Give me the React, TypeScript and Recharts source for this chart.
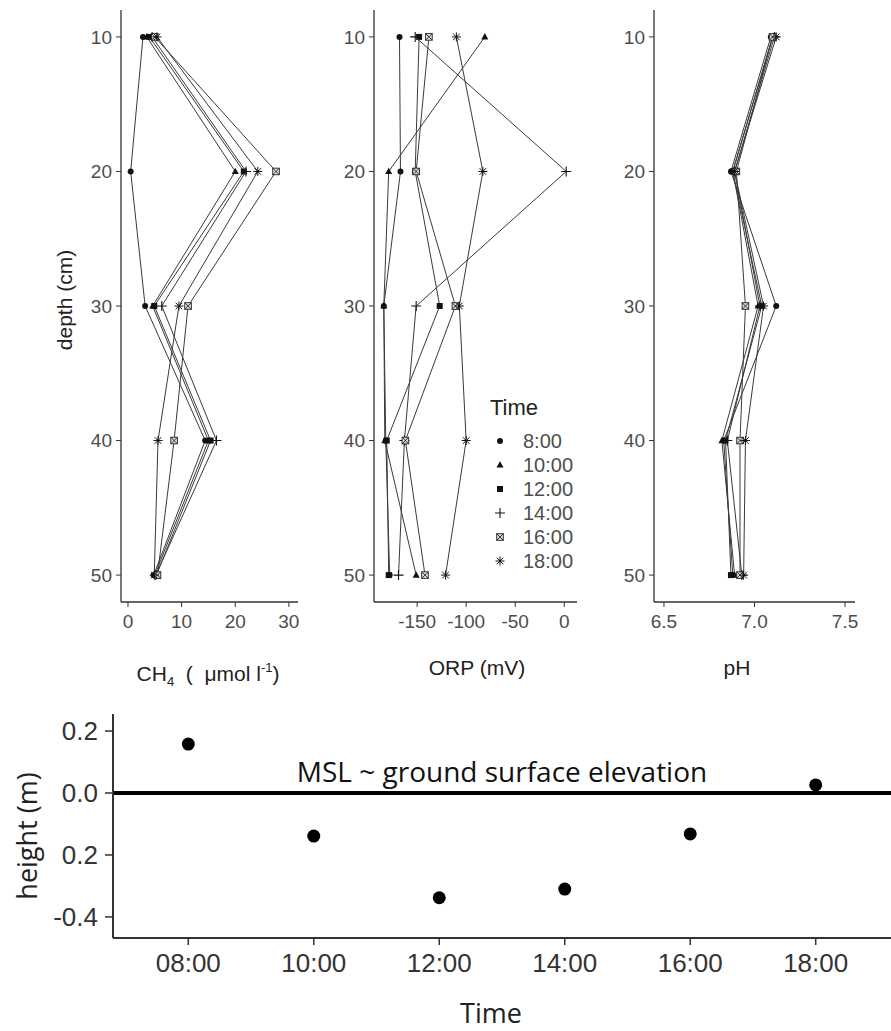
import React from "react";
import {
  ScatterChart,
  Scatter,
  XAxis,
  YAxis,
  ReferenceLine,
  Legend,
} from "recharts";

const depths = [10, 20, 30, 40, 50];
const times = ["8:00", "10:00", "12:00", "14:00", "16:00", "18:00"];
const markers = ["circle", "triangle", "square", "plus", "boxx", "star"];

// CH4 (umol/l) per sampling time, top to bottom
const ch4At0800 = [2.8, 0.5, 3.2, 14.4, 4.8];
const ch4At1000 = [3.5, 20.0, 4.6, 15.0, 5.0];
const ch4At1200 = [4.0, 21.6, 4.9, 15.4, 5.3];
const ch4At1400 = [4.5, 22.0, 6.3, 16.5, 5.2];
const ch4At1600 = [5.0, 27.6, 11.2, 8.6, 5.5];
const ch4At1800 = [5.4, 24.2, 9.5, 5.6, 4.9];

// ORP (mV)
const orpAt0800 = [-168, -167, -184, -182, -178];
const orpAt1000 = [-81, -179, -184, -183, -151];
const orpAt1200 = [-148, -152, -127, -181, -179];
const orpAt1400 = [-152, 2, -151, -163, -169];
const orpAt1600 = [-138, -151, -111, -162, -142];
const orpAt1800 = [-110, -83, -107, -100, -121];

// pH
const phAt0800 = [7.09, 6.87, 7.12, 6.83, 6.88];
const phAt1000 = [7.1, 6.88, 7.02, 6.82, 6.89];
const phAt1200 = [7.1, 6.88, 7.04, 6.84, 6.87];
const phAt1400 = [7.11, 6.89, 7.03, 6.85, 6.93];
const phAt1600 = [7.1, 6.9, 6.95, 6.92, 6.92];
const phAt1800 = [7.12, 6.89, 7.05, 6.95, 6.94];

const ch4Series = [ch4At0800, ch4At1000, ch4At1200, ch4At1400, ch4At1600, ch4At1800];
const orpSeries = [orpAt0800, orpAt1000, orpAt1200, orpAt1400, orpAt1600, orpAt1800];
const phSeries = [phAt0800, phAt1000, phAt1200, phAt1400, phAt1600, phAt1800];

const ch4Ticks = [0, 10, 20, 30];
const orpTicks = [-150, -100, -50, 0];
const phTicks = [6.5, 7.0, 7.5];

// water level panel
const hours = [8, 10, 12, 14, 16, 18];
const heights = [0.158, -0.139, -0.338, -0.31, -0.132, 0.026];
const hourTicks = [8, 10, 12, 14, 16, 18];
const hourLabels = ["08:00", "10:00", "12:00", "14:00", "16:00", "18:00"];
const heightTicks = [-0.4, -0.2, 0, 0.2];
const heightLabels = ["-0.4", "0.2", "0.0", "0.2"];

const sans = "'Liberation Sans', Arial, sans-serif";
const calibriLike = "'Open Sans', 'Noto Sans', sans-serif";
const axisGray = "#333";
const tickGray = "#4d4d4d";

function Marker({ kind, cx, cy }: { kind: string; cx: number; cy: number }) {
  const c = "#111";
  switch (kind) {
    case "circle":
      return <circle cx={cx} cy={cy} r={3} fill={c} />;
    case "triangle":
      return (
        <polygon
          points={`${cx},${cy - 3.8} ${cx - 3.5},${cy + 2.6} ${cx + 3.5},${cy + 2.6}`}
          fill={c}
        />
      );
    case "square":
      return <rect x={cx - 3} y={cy - 3} width={6} height={6} fill={c} />;
    case "plus":
      return (
        <path
          d={`M${cx - 5},${cy}H${cx + 5}M${cx},${cy - 5}V${cy + 5}`}
          stroke={c}
          strokeWidth={1.1}
        />
      );
    case "boxx":
      return (
        <g stroke="#222" strokeWidth={0.9} fill="#ddd">
          <rect x={cx - 3.3} y={cy - 3.3} width={6.6} height={6.6} />
          <path d={`M${cx - 3.3},${cy - 3.3}L${cx + 3.3},${cy + 3.3}M${cx + 3.3},${cy - 3.3}L${cx - 3.3},${cy + 3.3}`} />
        </g>
      );
    case "star":
      return (
        <path
          d={`M${cx - 4.5},${cy}H${cx + 4.5}M${cx},${cy - 4.5}V${cy + 4.5}M${cx - 3.3},${cy - 3.3}L${cx + 3.3},${cy + 3.3}M${cx + 3.3},${cy - 3.3}L${cx - 3.3},${cy + 3.3}`}
          stroke={c}
          strokeWidth={1}
        />
      );
    default:
      return null;
  }
}

const profile = (values: number[]) => depths.map((d, i) => ({ depth: d, v: values[i] }));

function TimeLegend() {
  return (
    <div style={{ fontFamily: sans, color: "#222" }}>
      <div style={{ fontSize: 22, lineHeight: "26px", marginBottom: 8, paddingLeft: 3 }}>Time</div>
      {times.map((t, i) => (
        <div key={t} style={{ display: "flex", alignItems: "center", height: 24 }}>
          <svg width={26} height={24}>
            <Marker kind={markers[i]} cx={13} cy={12} />
          </svg>
          <span style={{ fontSize: 20, color: tickGray, marginLeft: 10 }}>{t}</span>
        </div>
      ))}
    </div>
  );
}

function Profile({
  series,
  domain,
  ticks,
  width,
  margin,
  format,
  showLegend,
}: {
  series: number[][];
  domain: [number, number];
  ticks: number[];
  width: number;
  margin: { top: number; right: number; bottom: number; left: number };
  format?: (v: number) => string;
  showLegend?: boolean;
}) {
  const tickStyle = { fill: tickGray, fontSize: 19, fontFamily: sans };
  return (
    <ScatterChart width={width} height={690} margin={margin}>
      <XAxis
        type="number"
        dataKey="v"
        domain={domain}
        ticks={ticks}
        allowDataOverflow
        height={40}
        tickSize={5}
        tickMargin={8}
        tickFormatter={format}
        tick={tickStyle}
        stroke={axisGray}
        tickLine={{ stroke: axisGray }}
        axisLine={{ stroke: axisGray, strokeWidth: 1.3 }}
      />
      <YAxis
        type="number"
        dataKey="depth"
        domain={[8, 52]}
        ticks={depths}
        reversed
        allowDataOverflow
        width={40}
        tickSize={5}
        tickMargin={4}
        tick={tickStyle}
        stroke={axisGray}
        tickLine={{ stroke: axisGray }}
        axisLine={{ stroke: axisGray, strokeWidth: 1.3 }}
      />
      {series.map((vals, i) => (
        <Scatter
          key={times[i]}
          name={times[i]}
          data={profile(vals)}
          line={{ stroke: "#3a3a3a", strokeWidth: 1 }}
          lineType="joint"
          isAnimationActive={false}
          shape={(p: any) => <Marker kind={markers[i]} cx={p.cx} cy={p.cy} />}
        />
      ))}
      {showLegend && (
        <Legend
          layout="vertical"
          align="center"
          verticalAlign="middle"
          content={() => <TimeLegend />}
          wrapperStyle={{ position: "absolute", left: 177, top: 395, width: 110 }}
        />
      )}
    </ScatterChart>
  );
}

const titleStyle: React.CSSProperties = {
  position: "absolute",
  width: 240,
  textAlign: "center",
  fontFamily: sans,
  fontSize: 21,
  lineHeight: "26px",
  color: "#222",
};

export default function App() {
  return (
    <div style={{ position: "absolute", left: 0, top: 0, width: 891, height: 1031, background: "#fff" }}>
      <div style={{ position: "absolute", left: 0, top: 0 }}>
        <Profile
          series={ch4Series}
          domain={[-1.3, 31.7]}
          ticks={ch4Ticks}
          width={310}
          margin={{ top: 10, right: 12, bottom: 48, left: 81 }}
        />
      </div>
      <div style={{ position: "absolute", left: 310, top: 0 }}>
        <Profile
          series={orpSeries}
          domain={[-194, 13]}
          ticks={orpTicks}
          width={290}
          margin={{ top: 10, right: 23, bottom: 48, left: 24 }}
          showLegend
        />
      </div>
      <div style={{ position: "absolute", left: 600, top: 0 }}>
        <Profile
          series={phSeries}
          domain={[6.445, 7.555]}
          ticks={phTicks}
          width={291}
          margin={{ top: 10, right: 36, bottom: 48, left: 14 }}
          format={(v: number) => v.toFixed(1)}
        />
      </div>

      <div
        style={{
          ...titleStyle,
          left: 65 - 120,
          top: 300 - 13,
          transform: "rotate(-90deg)",
        }}
      >
        depth (cm)
      </div>
      <div style={{ ...titleStyle, left: 208 - 120, top: 668 - 13 }}>
        CH<sub style={{ fontSize: 13, verticalAlign: "-5px" }}>4</sub>&nbsp;&nbsp;(&nbsp;&nbsp;μmol l
        <sup style={{ fontSize: 13, verticalAlign: "9px" }}>-1</sup>)
      </div>
      <div style={{ ...titleStyle, left: 477 - 120, top: 668 - 13 }}>ORP (mV)</div>
      <div style={{ ...titleStyle, left: 737 - 120, top: 668 - 13 }}>pH</div>

      <div style={{ position: "absolute", left: 0, top: 700 }}>
        <ScatterChart width={891} height={331} margin={{ top: 14, right: 0, bottom: 53, left: 40 }}>
          <XAxis
            type="number"
            dataKey="h"
            domain={[6.8, 19.2]}
            ticks={hourTicks}
            allowDataOverflow
            height={40}
            tickSize={7}
            tickMargin={9}
            tickFormatter={(v: number) => hourLabels[hourTicks.indexOf(v)]}
            tick={{ fill: "#333", fontSize: 26, fontFamily: sans }}
            stroke={axisGray}
            axisLine={{ stroke: axisGray, strokeWidth: 2 }}
            tickLine={{ stroke: axisGray, strokeWidth: 1.5 }}
          />
          <YAxis
            type="number"
            dataKey="z"
            domain={[-0.468, 0.255]}
            ticks={heightTicks}
            allowDataOverflow
            width={73}
            tickSize={8}
            tickMargin={7}
            tickFormatter={(v: number) => heightLabels[heightTicks.indexOf(v)]}
            tick={{ fill: "#333", fontSize: 26, fontFamily: sans }}
            stroke={axisGray}
            axisLine={{ stroke: axisGray, strokeWidth: 2 }}
            tickLine={{ stroke: axisGray, strokeWidth: 1.5 }}
          />
          <ReferenceLine
            y={0}
            stroke="#000"
            strokeWidth={4}
            label={{
              value: "MSL ~ ground surface elevation",
              position: "top",
              offset: 11,
              fill: "#111",
              fontSize: 28,
              fontFamily: calibriLike,
            }}
          />
          <Scatter
            data={hours.map((h, i) => ({ h, z: heights[i] }))}
            isAnimationActive={false}
            shape={(p: any) => <circle cx={p.cx} cy={p.cy} r={6.5} fill="#000" />}
          />
        </ScatterChart>
      </div>
      <div
        style={{
          position: "absolute",
          left: 27 - 100,
          top: 836 - 18,
          width: 200,
          textAlign: "center",
          transform: "rotate(-90deg)",
          fontFamily: calibriLike,
          fontSize: 27,
          lineHeight: "36px",
          color: "#222",
        }}
      >
        height (m)
      </div>
      <div
        style={{
          position: "absolute",
          left: 491 - 100,
          top: 1013 - 18,
          width: 200,
          textAlign: "center",
          fontFamily: calibriLike,
          fontSize: 27,
          lineHeight: "36px",
          color: "#222",
        }}
      >
        Time
      </div>
    </div>
  );
}
